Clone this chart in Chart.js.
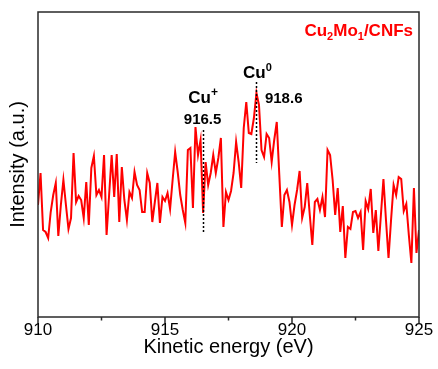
<!DOCTYPE html>
<html><head><meta charset="utf-8">
<script src="https://cdn.jsdelivr.net/npm/chart.js@4.4.1/dist/chart.umd.min.js"></script>
<style>html,body{margin:0;padding:0;background:#fff}canvas{display:block}</style>
</head><body>
<canvas id="c" width="438" height="369"></canvas>
<script>
// ---- data ----
const energyStart = 910;
const energyStep = 0.1;
const intensity = [
112,144,87,85,79,105,122,134,81,112,
137,112,88,99,164,115,121,117,99,135,
92,149,161,122,127,120,162,82,122,162,
120,163,95,150,117,97,125,119,145,132,
127,105,105,144,134,95,115,134,94,120,
116,124,108,137,165,145,122,107,94,167,
169,109,190,162,177,104,155,132,144,162,
144,159,179,90,125,117,126,144,175,155,
129,189,215,184,183,199,224,212,167,160,
183,179,155,177,195,142,90,122,127,115,
92,112,127,146,99,110,134,102,72,115,
118,107,120,100,167,162,137,102,129,85,
111,59,90,88,105,106,99,105,67,116,
108,128,84,107,66,102,138,97,59,97,
132,122,140,138,106,113,82,54,129,64,
87
];
const xTickValues = [910, 915, 920, 925];
const xMinorTickValues = [912.5, 917.5, 922.5];
const peakEnergies = [916.5, 918.6];
const peakLabels = ['916.5', '918.6'];
const peakLineRanges = [[85, 187], [154, 235]];

const energies = intensity.map((_, i) => +(energyStart + i * energyStep).toFixed(1));
const points = intensity.map((v, i) => ({x: energies[i], y: v}));

const FONT = "'Liberation Sans', Arial, sans-serif";

function drawRich(ctx, segs, x, y, align, color) {
  let total = 0;
  segs.forEach(s => { ctx.font = `bold ${s[1]}px ${FONT}`; total += ctx.measureText(s[0]).width; });
  let cx = align === 'center' ? x - total / 2 : align === 'right' ? x - total : x;
  ctx.textAlign = 'left';
  ctx.textBaseline = 'alphabetic';
  ctx.fillStyle = color;
  segs.forEach(s => {
    ctx.font = `bold ${s[1]}px ${FONT}`;
    ctx.fillText(s[0], cx, y + s[2]);
    cx += ctx.measureText(s[0]).width;
  });
}

const decorPlugin = {
  id: 'decor',
  afterDatasetsDraw(chart) {
    const ctx = chart.ctx;
    const xs = chart.scales.x, ys = chart.scales.y;
    const a = chart.chartArea;
    ctx.save();
    // dotted peak lines
    ctx.strokeStyle = '#000';
    ctx.lineWidth = 1.5;
    ctx.setLineDash([2, 2]);
    peakEnergies.forEach((e, k) => {
      const px = Math.round(xs.getPixelForValue(e)) + 0.5;
      ctx.beginPath();
      ctx.moveTo(px, ys.getPixelForValue(peakLineRanges[k][1]));
      ctx.lineTo(px, ys.getPixelForValue(peakLineRanges[k][0]));
      ctx.stroke();
    });
    ctx.setLineDash([]);
    // frame
    ctx.strokeStyle = '#2a2a2a';
    ctx.lineWidth = 1.5;
    ctx.strokeRect(a.left, a.top, a.right - a.left, a.bottom - a.top);
    // ticks
    ctx.beginPath();
    xTickValues.forEach(v => {
      const px = xs.getPixelForValue(v);
      ctx.moveTo(px, a.bottom); ctx.lineTo(px, a.bottom + 6);
    });
    xMinorTickValues.forEach(v => {
      const px = xs.getPixelForValue(v);
      ctx.moveTo(px, a.bottom); ctx.lineTo(px, a.bottom + 3.5);
    });
    ctx.stroke();
    // labels
    const p1 = xs.getPixelForValue(peakEnergies[0]);
    const p2 = xs.getPixelForValue(peakEnergies[1]);
    drawRich(ctx, [['Cu', 17, 0], ['+', 12, -7]], p1, 103, 'center', '#000');
    drawRich(ctx, [[peakLabels[0], 15, 0]], p1 - 0.5, 124, 'center', '#000');
    drawRich(ctx, [['Cu', 17, 0], ['0', 11, -7]], p2 + 1, 78, 'center', '#000');
    drawRich(ctx, [[peakLabels[1], 15, 0]], p2 + 8.5, 103, 'left', '#000');
    drawRich(ctx, [['Cu', 17, 0], ['2', 11, 4], ['Mo', 17, 0], ['1', 11, 4], ['/CNFs', 17, 0]], a.right - 6, 36, 'right', '#ff0000');
    ctx.restore();
  }
};

new Chart(document.getElementById('c'), {
  type: 'line',
  data: {
    datasets: [{
      data: points,
      borderColor: '#ff0000',
      borderWidth: 2,
      pointRadius: 0,
      tension: 0,
      fill: false
    }]
  },
  options: {
    responsive: false,
    animation: false,
    devicePixelRatio: 1,
    layout: {padding: {top: 12, right: 19, left: 0, bottom: 0}},
    plugins: {legend: {display: false}, tooltip: {enabled: false}},
    scales: {
      x: {
        type: 'linear',
        min: 910, max: 925,
        afterFit: s => { s.height = 52; },
        afterBuildTicks: s => { s.ticks = xTickValues.map(v => ({value: v})); },
        grid: {display: false, drawTicks: false},
        border: {display: false},
        ticks: {
          autoSkip: false, maxRotation: 0, padding: 3,
          color: '#000',
          font: {family: FONT, size: 17},
          callback: v => String(v)
        },
        title: {display: true, text: 'Kinetic energy (eV)', color: '#000',
          font: {family: FONT, size: 20}, padding: {top: 0, bottom: 10}}
      },
      y: {
        min: 0, max: 305,
        afterFit: s => { s.width = 38; },
        grid: {display: false, drawTicks: false},
        border: {display: false},
        ticks: {display: false},
        title: {display: true, text: 'Intensity (a.u.)', color: '#000',
          font: {family: FONT, size: 20}, padding: {top: 6.5, bottom: 0}}
      }
    }
  },
  plugins: [decorPlugin]
});
</script>
</body></html>
